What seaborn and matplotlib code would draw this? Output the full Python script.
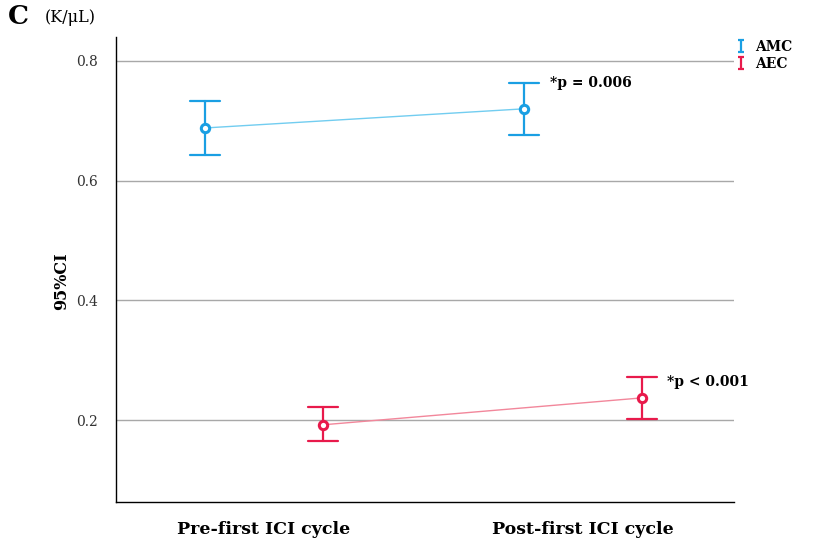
import numpy as np
import pandas as pd
import seaborn as sns
import matplotlib.pyplot as plt
from matplotlib.lines import Line2D
from matplotlib.path import Path

# 95% CI summaries (K/uL): lower bound, mean, upper bound
cycles = ["Pre-first ICI cycle", "Post-first ICI cycle"]
series = ["AMC", "AEC"]
amc_lower = [0.643, 0.676]
amc_mean = [0.688, 0.720]
amc_upper = [0.733, 0.763]
aec_lower = [0.165, 0.202]
aec_mean = [0.192, 0.237]
aec_upper = [0.222, 0.272]
y_ticks = [0.2, 0.4, 0.6, 0.8]
p_labels = ["*p = 0.006", "*p < 0.001"]

bar_colors = {"AMC": "#1a9fe3", "AEC": "#e81a4b"}
line_colors = {"AMC": "#72cdf0", "AEC": "#f2879b"}

# long-form table: median of (lower, mean, upper) is the mean,
# full percentile interval spans lower..upper
rows = []
for name, lo, mu, hi in [("AMC", amc_lower, amc_mean, amc_upper),
                         ("AEC", aec_lower, aec_mean, aec_upper)]:
    for i, c in enumerate(cycles):
        for v in (lo[i], mu[i], hi[i]):
            rows.append({"cycle": c, "series": name, "value": v})
df = pd.DataFrame(rows)

sns.set_style("white")
serif = ["DejaVu Serif"]
plt.rcParams["font.family"] = serif
plt.rcParams["text.color"] = "black"
plt.rcParams["axes.labelcolor"] = "black"

fig = plt.figure(figsize=(8.14, 5.38), dpi=100)
ax = fig.add_axes([116 / 814, 1 - 502 / 538, (734 - 116) / 814, (502 - 37) / 538])

sns.pointplot(data=df, x="cycle", y="value", hue="series", order=cycles,
              hue_order=series, palette=bar_colors, estimator="median",
              errorbar=("pi", 100), dodge=0.37, capsize=0.095,
              markers="o", err_kws={"linewidth": 1.6}, legend=False, ax=ax)

# restyle: thin pale connecting lines, hollow ring markers on top
point_lines = [ln for ln in ax.lines if ln.get_marker() not in (None, "None", "")]
for ln, name in zip(point_lines, series):
    ln.set_color(line_colors[name])
    ln.set_linewidth(1.0)
    ln.set_markeredgecolor(bar_colors[name])
    ln.set_markerfacecolor("white")
    ln.set_markersize(6)
    ln.set_markeredgewidth(2.2)
    ln.set_zorder(5)

ax.set_xlim(-0.464, 1.473)
ax.set_ylim(0.063, 0.84)
ax.set_yticks(y_ticks)
ax.set_yticklabels([f"{t:.1f}" for t in y_ticks], fontsize=10, color="#333333")
ax.yaxis.grid(True, color="#a8a8a8", linewidth=1.0)
ax.xaxis.grid(False)
ax.tick_params(axis="both", length=0)
ax.tick_params(axis="y", pad=13)
ax.tick_params(axis="x", pad=14)
for lab in ax.get_xticklabels():
    lab.set_fontsize(12.5)
    lab.set_fontweight("bold")
    lab.set_color("black")
ax.set_xlabel("")
ax.set_ylabel("95%CI", fontsize=11.5, fontweight="bold")
ax.yaxis.set_label_coords(-0.075, 0.475)

for side in ("top", "right"):
    ax.spines[side].set_visible(False)
for side in ("left", "bottom"):
    ax.spines[side].set_color("black")
    ax.spines[side].set_linewidth(1.0)

# p-value notes beside the post-cycle upper caps
post_x = [pl.get_xdata()[1] for pl in point_lines]
ax.annotate(p_labels[0], xy=(post_x[0], amc_upper[1]), xytext=(19, 0),
            textcoords="offset points", fontsize=10, fontweight="bold",
            va="center", ha="left", color="black")
ax.annotate(p_labels[1], xy=(post_x[1], aec_upper[1]), xytext=(18, -4),
            textcoords="offset points", fontsize=10, fontweight="bold",
            va="center", ha="left", color="black")

# legend with small error-bar glyphs
ibar = Path([(-0.5, 1), (0.5, 1), (0, 1), (0, -1), (-0.5, -1), (0.5, -1)],
            [Path.MOVETO, Path.LINETO, Path.MOVETO, Path.LINETO,
             Path.MOVETO, Path.LINETO])
handles = [Line2D([], [], linestyle="none", marker=ibar, markersize=8,
                  markeredgewidth=1.6, color=bar_colors[s]) for s in series]
fig.legend(handles, series, loc="upper left", bbox_to_anchor=(730 / 814, 1 - 34 / 538),
           frameon=False, prop={"family": serif, "weight": "bold", "size": 10},
           handlelength=0.8, handletextpad=0.6, labelspacing=0.25, borderaxespad=0)

fig.text(8 / 814, 1 - 17 / 538, "C", fontsize=19, fontweight="bold", va="center")
fig.text(45 / 814, 1 - 17 / 538, "(K/μL)", fontsize=11.5, va="center")

fig.savefig("out.png", dpi=100)
